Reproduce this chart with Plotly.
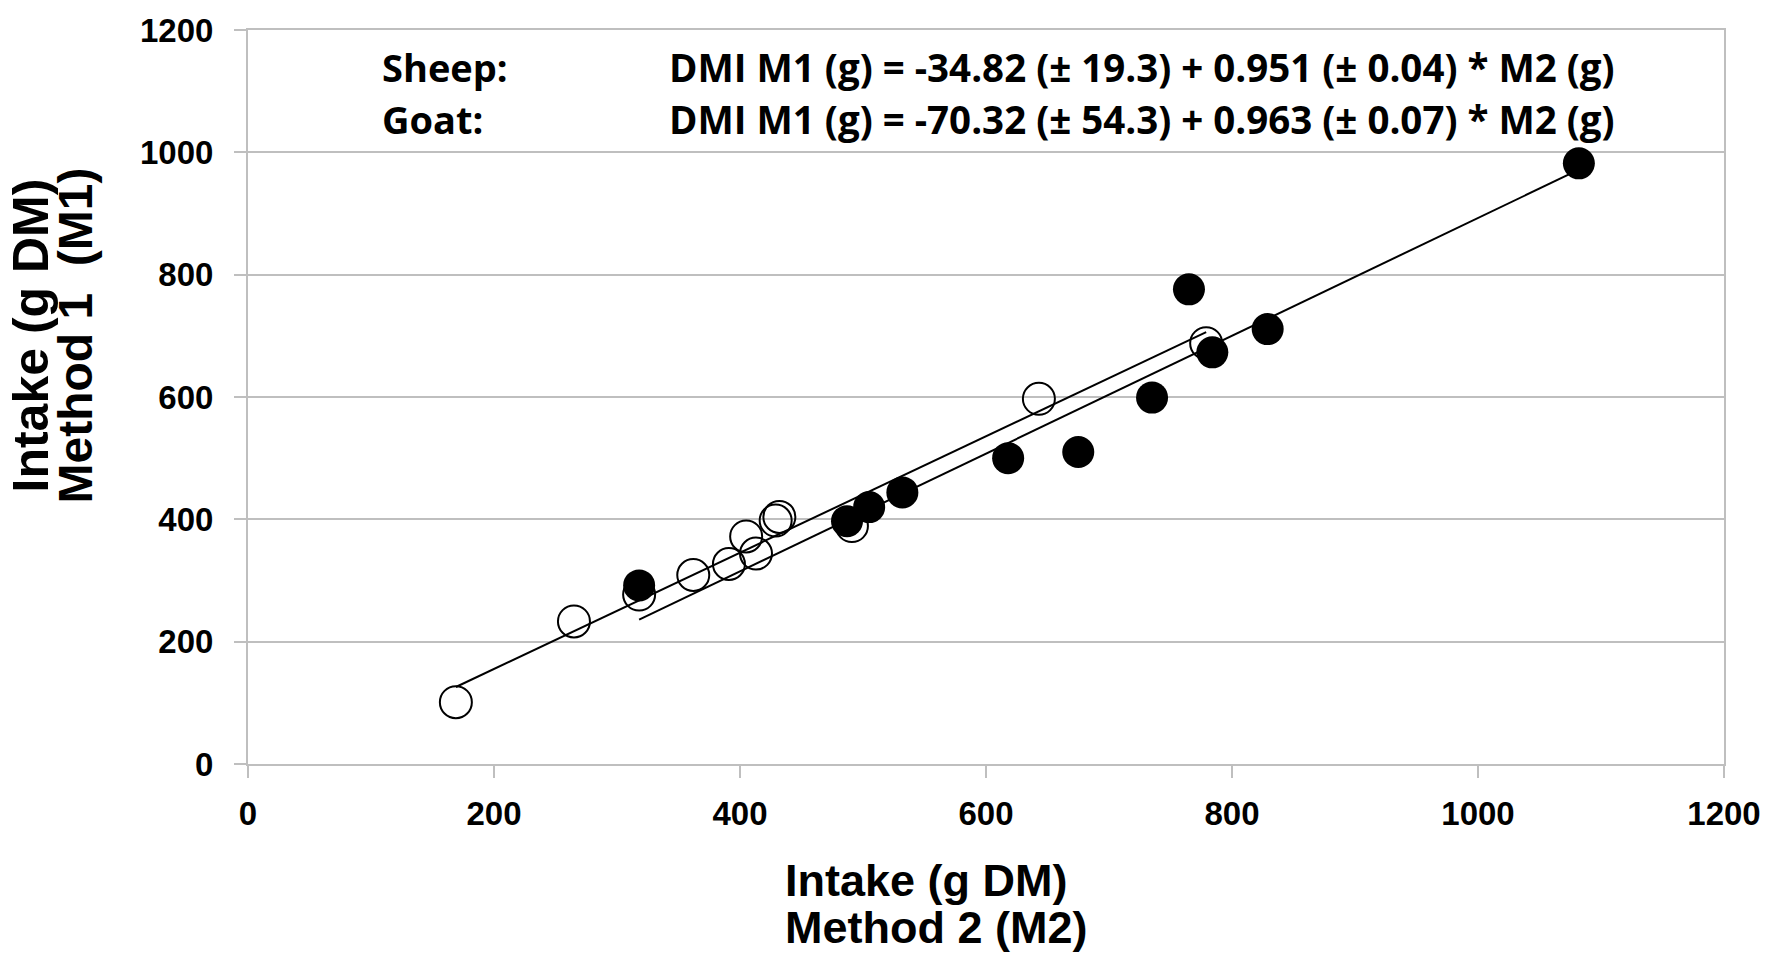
import plotly.graph_objects as go

# Sheep (open circles)
sheep_x = [169, 265, 318, 362, 391, 405, 413, 429, 432, 491, 643, 779]
sheep_y = [101, 233, 277, 309, 327, 372, 344, 398, 404, 389, 597, 688]

# Goat (filled circles)
goat_x = [318, 487, 505, 532, 618, 675, 735, 765, 784, 829, 1082]
goat_y = [292, 397, 420, 444, 500, 510, 599, 776, 673, 711, 982]

# Regression coefficients (from the equations in the chart)
sheep_a, sheep_b = -34.82, 0.951
goat_a, goat_b = -70.32, 0.963

eq_labels = ["Sheep:", "Goat:"]
eq_texts = [
    "DMI M1 (g) = -34.82 (± 19.3) + 0.951 (± 0.04) * M2 (g)",
    "DMI M1 (g) = -70.32 (± 54.3) + 0.963 (± 0.07) * M2 (g)",
]
x_title = ["Intake (g DM)", "Method 2 (M2)"]
y_title = ["Intake (g DM)", "Method 1  (M1)"]
tick_vals = [0, 200, 400, 600, 800, 1000, 1200]

W, H = 1773, 966
L, R, T, B = 248, 49, 24, 202
pw, ph = W - L - R, H - T - B


def px(xp):
    return (xp - L) / pw


def py(yp):
    return (H - B - yp) / ph


AX_FONT = "Liberation Sans, Arial, sans-serif"
EQ_FONT = "Open Sans, Noto Sans, sans-serif"
GRID = "#BFBFBF"

fig = go.Figure()

fig.add_trace(go.Scatter(
    x=sheep_x, y=sheep_y, mode="markers", name="Sheep",
    marker=dict(symbol="circle-open", size=32, color="black", line=dict(width=2, color="black")),
))
fig.add_trace(go.Scatter(
    x=goat_x, y=goat_y, mode="markers", name="Goat",
    marker=dict(symbol="circle", size=32, color="black", line=dict(width=0)),
))

sx = [min(sheep_x), max(sheep_x)]
gx = [min(goat_x), max(goat_x)]
fig.add_trace(go.Scatter(
    x=sx, y=[sheep_a + sheep_b * v for v in sx], mode="lines",
    line=dict(color="black", width=2), hoverinfo="skip",
))
fig.add_trace(go.Scatter(
    x=gx, y=[goat_a + goat_b * v for v in gx], mode="lines",
    line=dict(color="black", width=2), hoverinfo="skip",
))

# Equations
eq_y = [61, 114]
for lab, txt, yy in zip(eq_labels, eq_texts, eq_y):
    fig.add_annotation(x=px(380), y=py(yy), xref="paper", yref="paper", text=lab, showarrow=False,
                       xanchor="left", yanchor="middle",
                       font=dict(family=EQ_FONT, size=38, color="black", weight="bold"))
    fig.add_annotation(x=px(667), y=py(yy), xref="paper", yref="paper", text=txt, showarrow=False,
                       xanchor="left", yanchor="middle",
                       font=dict(family=EQ_FONT, size=38.5, color="black", weight="bold"))

# Axis titles
for txt, yy in zip(x_title, [881, 929]):
    fig.add_annotation(x=px(783), y=py(yy), xref="paper", yref="paper",
                       text=txt, showarrow=False, xanchor="left", yanchor="middle",
                       font=dict(family=AX_FONT, size=45, color="black", weight="bold"))
for txt, xx, sz in zip(y_title, [31, 76], [50, 48]):
    fig.add_annotation(x=px(xx), y=py(332), xref="paper", yref="paper",
                       text=txt, showarrow=False, textangle=-90,
                       xanchor="center", yanchor="middle",
                       font=dict(family=AX_FONT, size=sz, color="black", weight="bold"))

axis_common = dict(
    range=[0, 1200], tickvals=tick_vals, ticktext=[str(v) for v in tick_vals],
    showline=True, linecolor=GRID, linewidth=2, mirror=True,
    ticks="outside", ticklen=12, tickwidth=2, tickcolor=GRID,
    tickfont=dict(family=AX_FONT, size=33, color="black", weight="bold"),
    zeroline=False, fixedrange=True,
)
fig.update_xaxes(**axis_common, showgrid=False, ticklabelstandoff=7)
fig.update_yaxes(**axis_common, showgrid=True, gridcolor=GRID, gridwidth=2, ticklabelstandoff=14)

fig.update_layout(
    width=W, height=H, margin=dict(l=L, r=R, t=T, b=B),
    plot_bgcolor="white", paper_bgcolor="white", showlegend=False,
)

fig.write_html("out.html", config={"displayModeBar": False},
               post_script="document.body.style.margin='0';document.body.style.overflow='hidden';")
